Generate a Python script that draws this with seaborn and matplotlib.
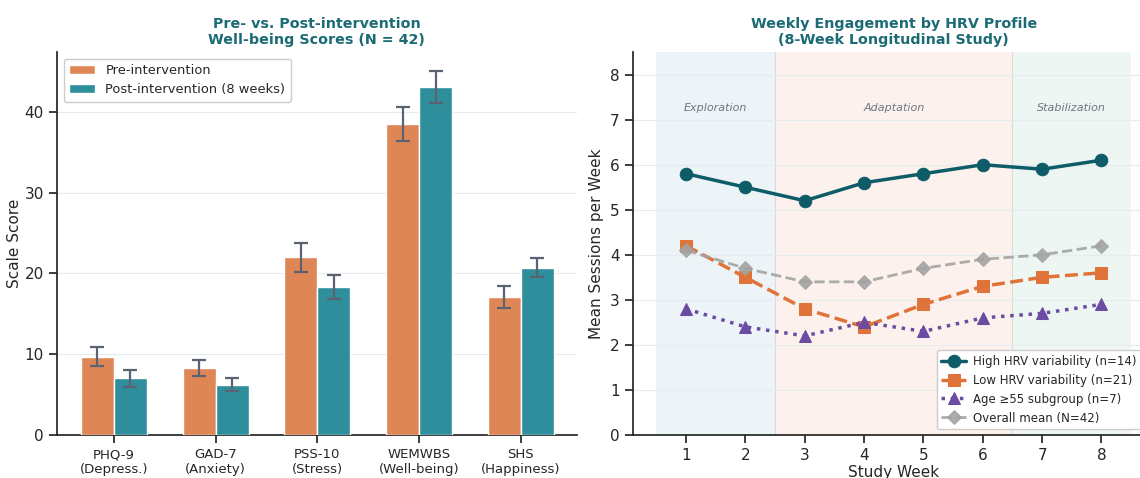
import numpy as np
import pandas as pd
import matplotlib
matplotlib.use('Agg')
import matplotlib.pyplot as plt
import seaborn as sns

# ── DATA ──────────────────────────────────────────────────────────────────────
scales     = ['PHQ-9\n(Depress.)', 'GAD-7\n(Anxiety)', 'PSS-10\n(Stress)',
              'WEMWBS\n(Well-being)', 'SHS\n(Happiness)']
pre_mean   = [9.7, 8.3, 22.0, 38.5, 17.1]
pre_err    = [1.2, 1.0, 1.8, 2.1, 1.4]
post_mean  = [7.0, 6.2, 18.3, 43.1, 20.7]
post_err   = [1.0, 0.8, 1.5, 2.0, 1.2]
groups     = ['Pre-intervention', 'Post-intervention (8 weeks)']

weeks      = [1, 2, 3, 4, 5, 6, 7, 8]
high_hrv   = [5.8, 5.5, 5.2, 5.6, 5.8, 6.0, 5.9, 6.1]
low_hrv    = [4.2, 3.5, 2.8, 2.4, 2.9, 3.3, 3.5, 3.6]
age55      = [2.8, 2.4, 2.2, 2.5, 2.3, 2.6, 2.7, 2.9]
overall    = [4.1, 3.7, 3.4, 3.4, 3.7, 3.9, 4.0, 4.2]
phases     = [('Exploration', 0.5, 2.5), ('Adaptation', 2.5, 6.5), ('Stabilization', 6.5, 8.5)]

# ── STYLE ─────────────────────────────────────────────────────────────────────
sns.set_theme(style='ticks')
plt.rcParams['font.family'] = ['DejaVu Sans']

TITLE_C  = '#1B6B75'
ORANGE   = '#DF8656'
TEAL     = '#2E8E9B'
ERR_C    = '#5B6372'

fig = plt.figure(figsize=(11.4, 4.78), dpi=100)
ax1 = fig.add_axes([0.050, 0.090, 0.456, 0.801])
ax2 = fig.add_axes([0.555, 0.090, 0.458, 0.801])

# ── LEFT: grouped bars ────────────────────────────────────────────────────────
df_bar = pd.DataFrame({
    'scale': scales * 2,
    'score': pre_mean + post_mean,
    'err':   pre_err + post_err,
    'group': [groups[0]] * len(scales) + [groups[1]] * len(scales),
})

sns.barplot(data=df_bar, x='scale', y='score', hue='group',
            palette=[ORANGE, TEAL], width=0.65, errorbar=None, saturation=1,
            edgecolor='white', linewidth=1.0, ax=ax1, zorder=3)

# error bars at the bar centres
for cont, errs in zip(ax1.containers, [pre_err, post_err]):
    xs = [b.get_x() + b.get_width() / 2 for b in cont]
    ys = [b.get_height() for b in cont]
    ax1.errorbar(xs, ys, yerr=errs, fmt='none', ecolor=ERR_C,
                 elinewidth=1.6, capsize=5, capthick=1.6, zorder=4)

ax1.set_xlim(-0.56, 4.55)
ax1.set_ylim(0, 47.4)
ax1.set_yticks([0, 10, 20, 30, 40])
ax1.set_xlabel('')
ax1.set_ylabel('Scale Score', fontsize=11, labelpad=2)
ax1.tick_params(axis='x', labelsize=9.5)
ax1.tick_params(axis='y', labelsize=11)
ax1.yaxis.grid(True, color='#E6EBEF', linewidth=0.8, zorder=0)
ax1.set_axisbelow(True)
ax1.set_title('Pre- vs. Post-intervention\nWell-being Scores (N = 42)',
              fontsize=10.3, fontweight='bold', color=TITLE_C, pad=6)
ax1.legend(loc='upper left', fontsize=9.4, frameon=True,
           framealpha=1, edgecolor='#CCCCCC', title=None)
sns.despine(ax=ax1)

# ── RIGHT: weekly engagement lines ────────────────────────────────────────────
span_cols = ['#E1EEF2', '#FBE9E0', '#E1F0EB']
for (name, lo, hi), c in zip(phases, span_cols):
    ax2.axvspan(lo, hi, color=c, alpha=0.6, zorder=0, lw=0)
    ax2.text((lo + hi) / 2, 7.27, name, ha='center', va='center',
             fontsize=8, style='italic', color='#6F7683')
for b in [2.5, 6.5]:
    ax2.axvline(b, color='#DADADA', lw=0.8, zorder=0.5)

df_line = pd.DataFrame({
    'week': weeks * 4,
    'sessions': high_hrv + low_hrv + age55 + overall,
    'profile': (['High HRV variability (n=14)'] * 8 +
                ['Low HRV variability (n=21)'] * 8 +
                ['Age \u226555 subgroup (n=7)'] * 8 +
                ['Overall mean (N=42)'] * 8),
})

styles = {
    'High HRV variability (n=14)': dict(color='#0E5C68', marker='o', ls='-',  lw=2.5, ms=9,  alpha=1.0),
    'Low HRV variability (n=21)':  dict(color='#E0733A', marker='s', ls='--', lw=2.5, ms=9,  alpha=1.0),
    'Age \u226555 subgroup (n=7)': dict(color='#6C4BA3', marker='^', ls=':',  lw=2.5, ms=9,  alpha=1.0),
    'Overall mean (N=42)':         dict(color='#A3A3A3', marker='D', ls='--', lw=2.0, ms=7,  alpha=0.9),
}
for prof, st in styles.items():
    sub = df_line[df_line['profile'] == prof]
    sns.lineplot(data=sub, x='week', y='sessions', ax=ax2, label=prof,
                 color=st['color'], marker=st['marker'], linestyle=st['ls'],
                 linewidth=st['lw'], markersize=st['ms'], alpha=st['alpha'],
                 markeredgecolor=st['color'], zorder=3)

ax2.set_xlim(0.1, 8.9)
ax2.set_ylim(0, 8.5)
ax2.set_xticks(weeks)
ax2.set_yticks(range(0, 9))
ax2.tick_params(labelsize=11)
ax2.set_xlabel('Study Week', fontsize=11, labelpad=1)
ax2.set_ylabel('Mean Sessions per Week', fontsize=11)
ax2.yaxis.grid(True, color='#E6EBEF', linewidth=0.8)
ax2.set_axisbelow(True)
ax2.set_title('Weekly Engagement by HRV Profile\n(8-Week Longitudinal Study)',
              fontsize=10.3, fontweight='bold', color=TITLE_C, pad=6)
ax2.legend(loc='lower left', bbox_to_anchor=(0.582, 0.015), borderaxespad=0,
           fontsize=8.5, frameon=True, framealpha=1, handletextpad=0.6,
           edgecolor='#CCCCCC', handlelength=2.1)
sns.despine(ax=ax2)

fig.savefig('out.png', dpi=100)
